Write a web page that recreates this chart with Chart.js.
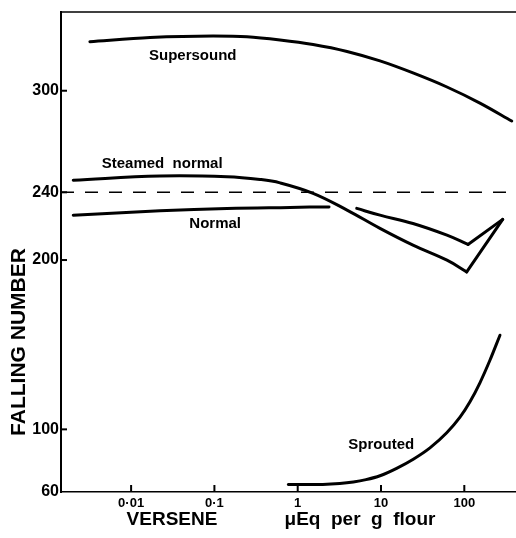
<!DOCTYPE html>
<html>
<head>
<meta charset="utf-8">
<script src="https://cdn.jsdelivr.net/npm/chart.js@4.4.0/dist/chart.umd.min.js"></script>
<style>
  html, body { margin: 0; padding: 0; background: #fff; }
  #wrap { width: 516px; height: 538px; position: relative; }
</style>
</head>
<body>
<div id="wrap"><canvas id="c"></canvas></div>
<script>
// ---------- data ----------
const seriesNames = ['Supersound', 'Steamed normal', 'Normal', 'Sprouted'];

const supersoundX = [0.0032, 0.0169, 0.0962, 0.246, 0.613, 1.53, 3.91, 9.72, 24.2, 61.9, 154, 371];
const supersoundY = [329.0, 331.4, 332.3, 331.9, 330.0, 327.3, 323.2, 317.6, 310.5, 302.2, 292.7, 282.1];

const steamedX = [0.00202, 0.0222, 0.1417, 0.3526, 0.613, 1.53, 3.91, 9.72, 24.2, 61.9, 106.9, 289];
const steamedY = [247.2, 249.6, 249.2, 247.6, 245.6, 239.4, 229.5, 218.7, 208.8, 199.9, 193.0, 224.0];

const normalX = [0.00202, 0.0222, 0.1417, 0.808, 2.376, 3.5, 5.11, 9.72, 24.2, 61.9, 110.8, 289];
const normalY = [226.5, 229.1, 230.5, 231.1, 231.4, null, 230.5, 226.5, 221.6, 214.7, 209.2, 224.0];

const sproutedX = [0.771, 2.0, 3.2, 4.65, 6.6, 9.72, 15.4, 24.4, 38.7, 61.5, 88.8, 117, 154, 203, 268];
const sproutedY = [67.4, 67.5, 68.0, 68.9, 70.3, 72.6, 77.0, 82.4, 89.1, 98.0, 107.2, 116.3, 127.5, 140.8, 155.6];

const referenceLevel = [240];

const xTickValues = [0.01, 0.1, 1, 10, 100];
const xTickLabels = ['0\u00b701', '0\u00b71', '1', '10', '100'];
const yTickValues = [100, 200, 240, 300];
const yTickLabels = ['100', '200', '240', '300'];
const yBottomLabel = '60';

const xMin = 0.00144, xMax = 406;
const yMin = 63.0, yMax = 346.5;

const xTitleParts = ['VERSENE', '\u03bcEq  per  g  flour'];
const yTitle = 'FALLING NUMBER';

// ---------- build datasets ----------
function pts(xs, ys, from, to) {
  const out = [];
  for (let i = from; i <= to; i++) out.push({ x: xs[i], y: ys[i] });
  return out;
}
function minIndex(ys) {
  let k = 0;
  ys.forEach((v, i) => { if (v !== null && v < ys[k]) k = i; });
  return k;
}
const lineStyle = { borderColor: '#000', borderWidth: 3, pointRadius: 0, fill: false, borderCapStyle: 'round', borderJoinStyle: 'round' };

const sIdx = minIndex(steamedY);
const nIdx = minIndex(normalY);

const datasets = [
  Object.assign({ label: seriesNames[0], data: pts(supersoundX, supersoundY, 0, supersoundX.length - 1), cubicInterpolationMode: 'monotone' }, lineStyle),
  Object.assign({ label: seriesNames[1], data: pts(steamedX, steamedY, 0, sIdx), tension: 0.4 }, lineStyle),
  Object.assign({ label: seriesNames[1] + ' rise', data: pts(steamedX, steamedY, sIdx, steamedX.length - 1), tension: 0 }, lineStyle),
  Object.assign({ label: seriesNames[2], data: pts(normalX, normalY, 0, nIdx), tension: 0.4, spanGaps: false }, lineStyle),
  Object.assign({ label: seriesNames[2] + ' rise', data: pts(normalX, normalY, nIdx, normalX.length - 1), tension: 0 }, lineStyle),
  Object.assign({ label: seriesNames[3], data: pts(sproutedX, sproutedY, 0, sproutedX.length - 1), cubicInterpolationMode: 'monotone' }, lineStyle),
  { label: 'reference', data: [{ x: xMin, y: referenceLevel[0] }, { x: xMax, y: referenceLevel[0] }],
    borderColor: '#000', borderWidth: 1.5, borderDash: [13, 11], pointRadius: 0, tension: 0, fill: false }
];

// label anchors in data coordinates
const seriesLabelAnchors = [
  { x: 0.0164, y: 320.5 },
  { x: 0.00444, y: 257.1 },
  { x: 0.05, y: 221.2 },
  { x: 4.05, y: 90.9 }
];

const regular = "'Liberation Sans', Arial, sans-serif";

const decorPlugin = {
  id: 'decor',
  afterDraw(chart) {
    const ctx = chart.ctx;
    const xs = chart.scales.x, ys = chart.scales.y;
    const a = chart.chartArea;
    ctx.save();
    ctx.strokeStyle = '#000';
    // top border
    ctx.lineWidth = 1.5;
    ctx.beginPath(); ctx.moveTo(a.left, a.top); ctx.lineTo(a.right + 1, a.top); ctx.stroke();
    // inward tick marks
    ctx.lineWidth = 2;
    xTickValues.forEach(v => {
      const px = xs.getPixelForValue(v);
      ctx.beginPath(); ctx.moveTo(px, a.bottom); ctx.lineTo(px, a.bottom - 7); ctx.stroke();
    });
    yTickValues.forEach(v => {
      const py = ys.getPixelForValue(v);
      ctx.beginPath(); ctx.moveTo(a.left, py); ctx.lineTo(a.left + 6, py); ctx.stroke();
    });
    // series labels
    ctx.fillStyle = '#000';
    ctx.font = 'bold 15px ' + regular;
    ctx.textAlign = 'left';
    ctx.textBaseline = 'middle';
    seriesNames.forEach((n, i) => {
      const p = seriesLabelAnchors[i];
      const txt = n === 'Steamed normal' ? 'Steamed  normal' : n;
      ctx.fillText(txt, xs.getPixelForValue(p.x), ys.getPixelForValue(p.y));
    });
    // y title
    ctx.save();
    ctx.font = 'bold 21px ' + regular;
    ctx.translate(19, 342);
    ctx.rotate(-Math.PI / 2);
    ctx.textAlign = 'center';
    ctx.textBaseline = 'middle';
    ctx.fillText(yTitle, 0, 0);
    ctx.restore();
    // x title
    ctx.font = 'bold 19px ' + regular;
    ctx.textAlign = 'center';
    ctx.textBaseline = 'middle';
    ctx.fillText(xTitleParts[0], 172, 520);
    ctx.fillText(xTitleParts[1], 360, 520);
    ctx.restore();
  }
};

new Chart(document.getElementById('c'), {
  type: 'line',
  data: { datasets },
  plugins: [decorPlugin],
  options: {
    responsive: true,
    maintainAspectRatio: false,
    animation: false,
    events: [],
    layout: { padding: { left: 0, top: 12, right: 1, bottom: 0 } },
    plugins: { legend: { display: false }, tooltip: { enabled: false }, title: { display: false } },
    scales: {
      x: {
        type: 'logarithmic',
        min: xMin, max: xMax,
        afterBuildTicks: s => { s.ticks = xTickValues.map(v => ({ value: v })); },
        afterFit: s => { s.height = 46; },
        grid: { display: false, drawTicks: false },
        border: { display: true, color: '#000', width: 1.5 },
        ticks: {
          autoSkip: false, maxRotation: 0, padding: 4, color: '#000',
          font: { family: regular, weight: 'bold', size: 13 },
          callback: (v, i) => xTickLabels[i]
        }
      },
      y: {
        type: 'linear',
        min: yMin, max: yMax,
        afterBuildTicks: s => { s.ticks = [{ value: yMin }].concat(yTickValues.map(v => ({ value: v }))); },
        afterFit: s => { s.width = 61; },
        grid: { display: false, drawTicks: false },
        border: { display: true, color: '#000', width: 2 },
        ticks: {
          autoSkip: false, padding: 2, color: '#000',
          font: { family: regular, weight: 'bold', size: 16 },
          callback: (v, i) => i === 0 ? yBottomLabel : yTickLabels[i - 1]
        }
      }
    }
  }
});
</script>
</body>
</html>
